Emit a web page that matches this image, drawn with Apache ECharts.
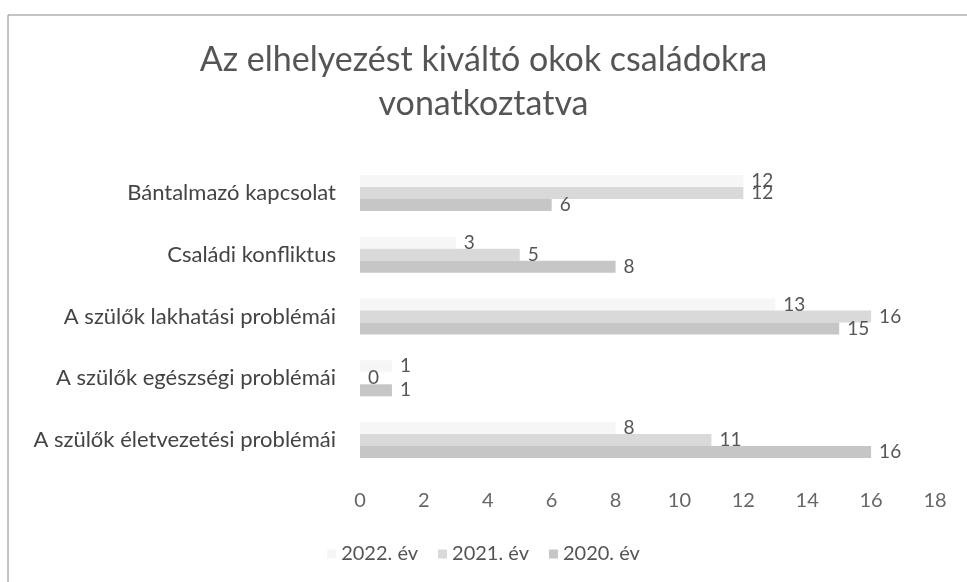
<!DOCTYPE html>
<html lang="hu">
	<head>
		<meta charset="UTF-8" />
		<title>Az elhelyezést kiváltó okok</title>
		<style>
			html, body { margin: 0; padding: 0; background: #fff; }
			#okok-chart { width: 967px; height: 582px; }
		</style>
	</head>
	<body>
		<div id="okok-chart"></div>
		<script src="https://cdn.jsdelivr.net/npm/echarts@6/dist/echarts.min.js"></script>
		<script>
			const categories = [
				"Bántalmazó kapcsolat",
				"Családi konfliktus",
				"A szülők lakhatási problémái",
				"A szülők egészségi problémái",
				"A szülők életvezetési problémái",
			];
			const seriesNames = ["2022. év", "2021. év", "2020. év"];
			const ev2022 = [12, 3, 13, 1, 8];
			const ev2021 = [12, 5, 16, 0, 11];
			const ev2020 = [6, 8, 15, 1, 16];
			const seriesColors = ["#f6f6f6", "#d9d9d9", "#c6c6c6"];

			const font = "Lato";
			window.onload = function () {
				let chart = echarts.init(document.getElementById("okok-chart"));
				let values = [ev2022, ev2021, ev2020];
				let series = values.map(function (data, i) {
					return {
						name: seriesNames[i],
						type: "bar",
						barWidth: 12,
						barGap: "0%",
						itemStyle: { color: seriesColors[i] },
						label: {
							show: true,
							position: "right",
							distance: 8,
							color: "#555",
							fontSize: 19,
							fontFamily: font,
						},
						data: data,
					};
				});
				let option = {
					backgroundColor: "#fff",
					animation: false,
					graphic: [
						{
							type: "rect",
							shape: { x: 8, y: 15, width: 980, height: 600 },
							style: { fill: "none", stroke: "#8a8a8a", lineWidth: 1 },
							silent: true,
						},
					],
					title: {
						text: "Az elhelyezést kiváltó okok családokra\nvonatkoztatva",
						left: "center",
						top: 38,
						// eltolás jobbra, hogy a cím közepe ~492 legyen
						padding: [0, 0, 0, 17],
						textStyle: {
							color: "#555",
							fontSize: 34,
							fontWeight: "normal",
							fontFamily: font,
							lineHeight: 44,
						},
					},
					legend: {
						data: seriesNames,
						top: 539,
						left: "center",
						padding: [5, 0, 5, 34],
						icon: "rect",
						itemWidth: 9,
						itemHeight: 9,
						itemGap: 20,
						textStyle: { color: "#555", fontSize: 20, fontFamily: font },
					},
					grid: {
						left: 360,
						right: 32,
						top: 162,
						bottom: 111,
					},
					xAxis: {
						type: "value",
						min: 0,
						max: 18,
						interval: 2,
						splitLine: { show: false },
						axisLine: { show: false },
						axisTick: { show: false },
						axisLabel: {
							color: "#666",
							fontSize: 20,
							fontFamily: font,
							margin: 20,
						},
					},
					yAxis: {
						type: "category",
						inverse: true,
						data: categories,
						axisLine: { show: false },
						axisTick: { show: false },
						axisLabel: {
							color: "#444",
							fontSize: 22,
							fontFamily: font,
							margin: 24,
						},
					},
					series: series,
				};
				chart.setOption(option);
			};
		</script>
	</body>
</html>
